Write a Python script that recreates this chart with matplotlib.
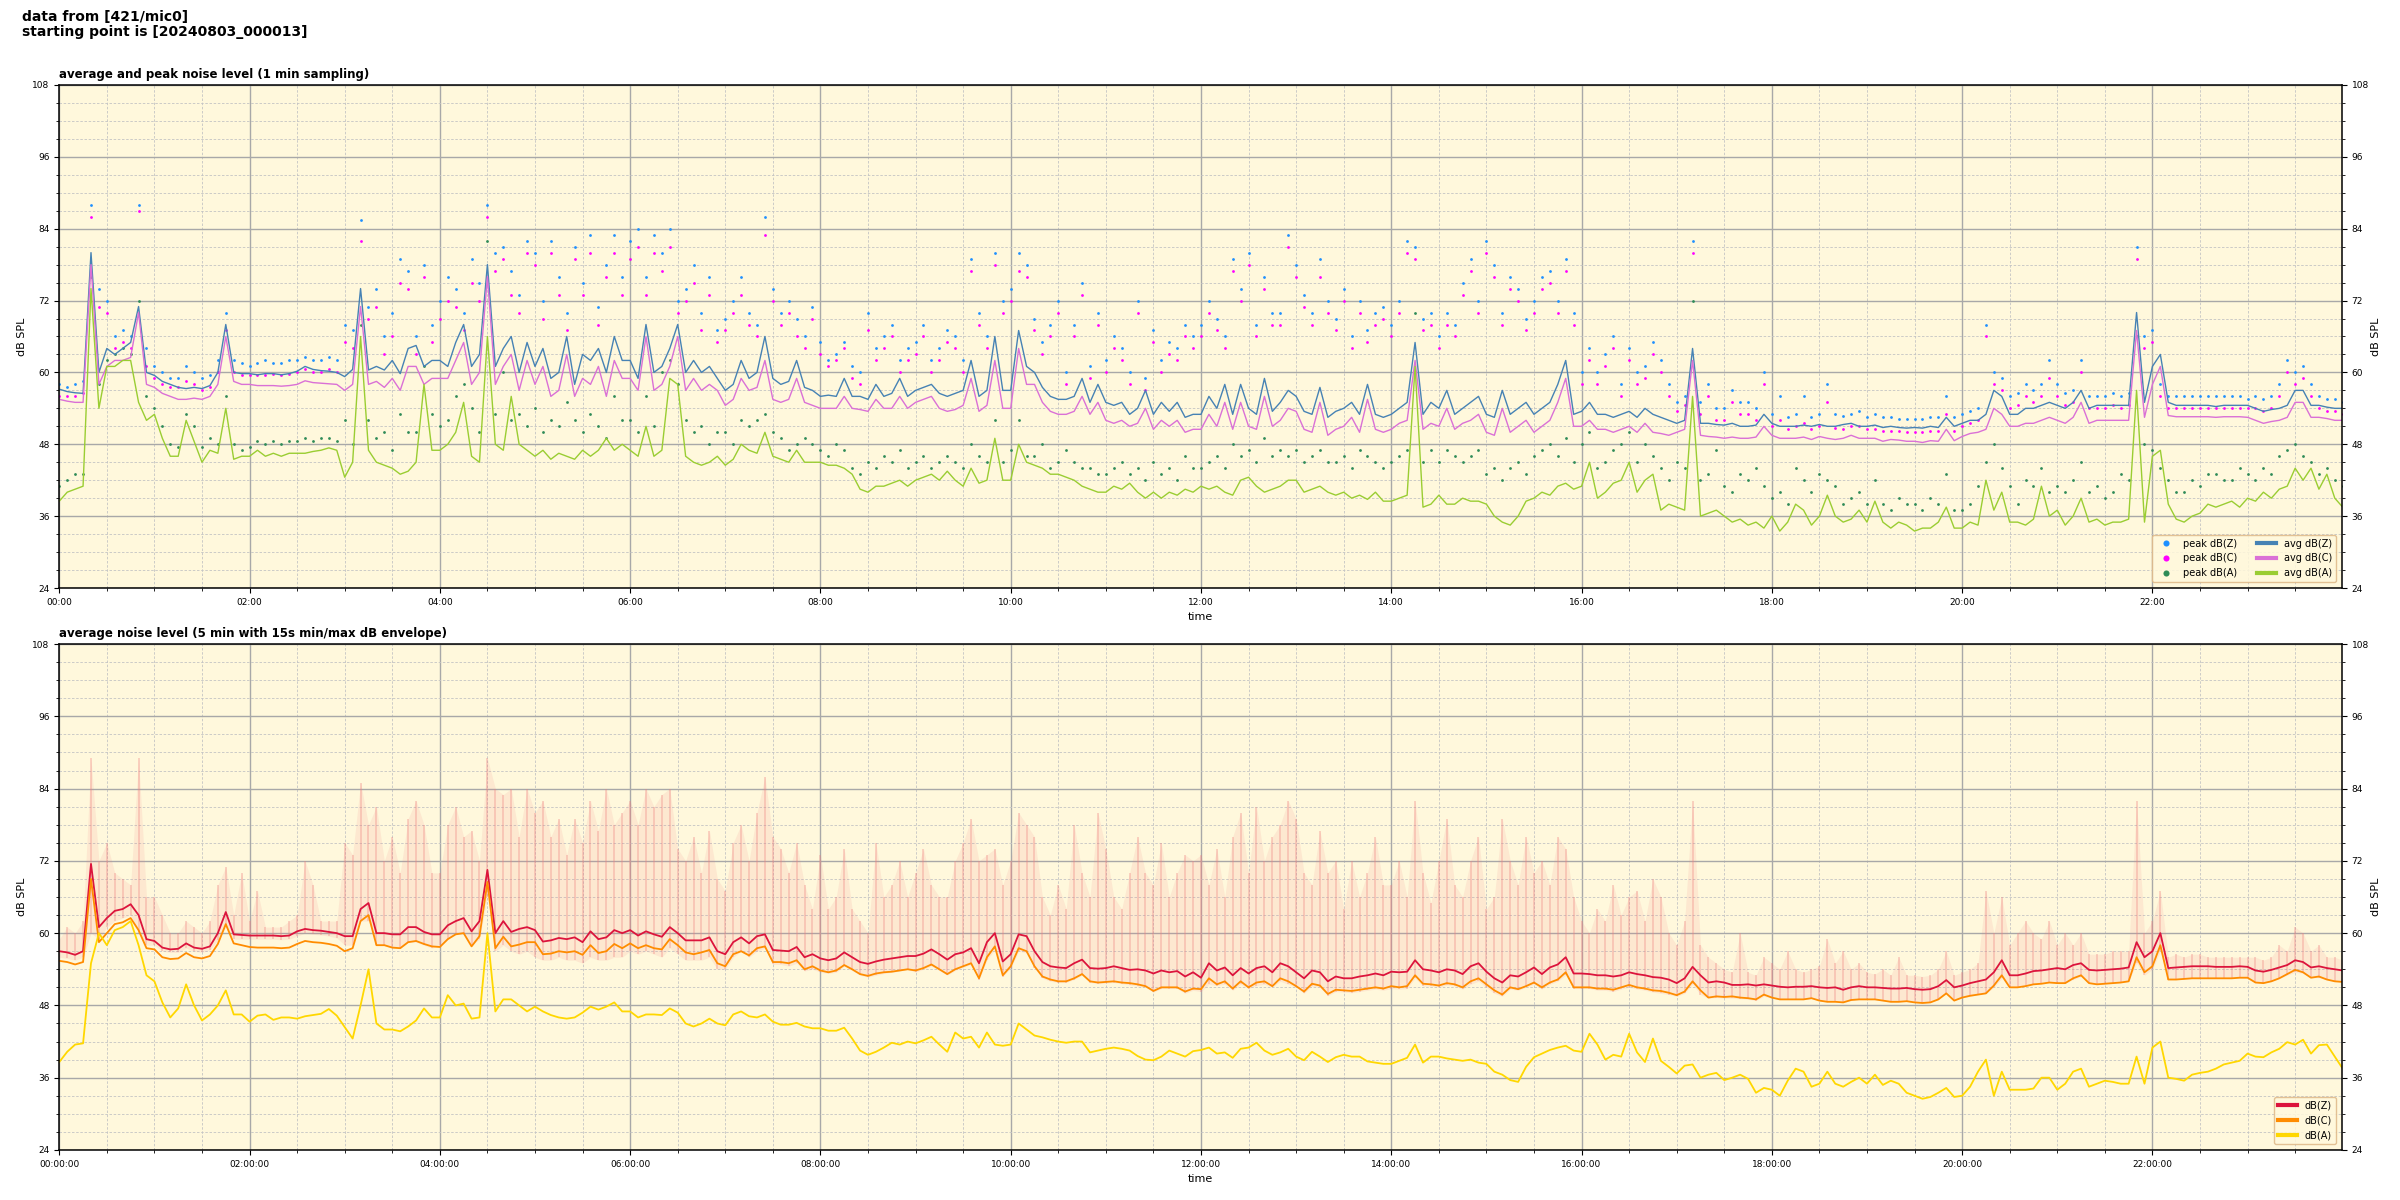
import numpy as np
import pandas as pd
import matplotlib
matplotlib.use("Agg")
import matplotlib.pyplot as plt
import matplotlib.dates as mdates
from matplotlib.ticker import MultipleLocator

# ---------------- data (5-minute samples, 00:00 .. 24:00) ----------------
start = "2024-08-03 00:00:00"

# top panel: 1 min average levels
avg_z = [57.2, 56.8, 56.6, 56.5, 80, 60, 64, 63, 64, 65, 71, 60,
         59.5, 58.5, 58, 57.5, 57.3, 57.5, 57.3, 57.8, 60, 68, 60, 59.8,
         59.8, 59.6, 59.8, 59.8, 59.6, 59.8, 60.2, 61, 60.5, 60.3, 60.2, 60,
         59.3, 60.5, 74, 60.4, 61, 60.4, 62, 59.8, 64, 64.5, 61, 62,
         62, 61, 65, 68, 61, 63, 78, 61, 64, 66, 60, 65,
         61, 64, 59, 60, 66, 58, 63, 62, 64, 60, 66, 62,
         62, 59, 68, 60, 61, 64, 68, 60, 62, 60, 61, 59,
         57, 58, 62, 59, 60, 66, 59, 58, 58.5, 62, 57.5, 57,
         56, 56.2, 56, 59, 56, 56, 55.5, 58, 56, 56.5, 59, 56,
         57, 57.5, 58, 56.5, 56, 56.5, 57, 62, 56, 57, 66, 57,
         57, 67, 61, 60, 57.5, 56, 55.5, 55.5, 56, 59, 55, 58,
         55, 54.5, 55, 53, 54, 57, 53, 55, 53.5, 55, 52.5, 53,
         53, 56, 54, 58, 53, 58, 54, 53, 59, 53.5, 55, 57,
         56, 53.5, 53, 57.5, 52.5, 53.5, 54, 55, 53, 58, 53, 52.5,
         53, 54, 55, 65, 53, 55, 54, 57, 53, 54, 55, 56,
         53, 52.5, 57, 53, 54, 55, 53, 54, 55, 58, 62, 53,
         53.5, 55, 53, 53, 52.5, 53, 53.5, 52.5, 54, 53, 52.5, 52,
         51.5, 52, 64, 51.5, 51.5, 51.3, 51.2, 51.5, 51, 51, 51.2, 53,
         51.5, 51, 51, 51, 51.2, 51, 51.3, 51, 51, 51.3, 51.5, 51,
         51, 51.2, 50.8, 51, 50.8, 50.7, 50.8, 50.7, 51, 50.8, 52.5, 51,
         51.5, 52, 52, 53, 57, 56, 53, 53, 54, 54, 54.5, 55,
         54.5, 54, 55, 57, 54, 54.5, 54.5, 54.5, 54.5, 54.5, 70, 55,
         61, 63, 55, 54.5, 54.5, 54.5, 54.5, 54.5, 54.3, 54.5, 54.5, 54.5,
         54.5, 54, 53.5, 53.8, 54, 54.5, 57, 57, 54.5, 54.5, 54.2, 54,
         54]
avg_c = [55.5, 55.2, 55, 55, 78, 58, 61, 62, 62, 62.5, 70, 58,
         57.5, 56.5, 56, 55.5, 55.5, 55.7, 55.5, 56, 58, 66, 58.5, 58,
         58, 57.8, 57.8, 57.8, 57.7, 57.8, 58, 58.6, 58.3, 58.2, 58.1, 58,
         57, 58, 71, 58, 58.5, 57.5, 59, 57, 61, 61, 58, 59,
         59, 59, 62, 65, 58, 60, 76, 58, 61, 63, 57, 62,
         58, 61, 56, 57, 63, 56, 59, 58, 61, 56, 62, 59,
         59, 57, 66, 57, 58, 61, 66, 57, 59, 57, 58, 57,
         54.5, 55.5, 59, 57, 57.5, 62, 55.5, 55, 55.5, 59, 55, 54.5,
         54, 54, 54, 56, 54, 53.8, 53.5, 55.5, 54, 54, 56, 54,
         55, 55.5, 56, 54, 53.5, 53.8, 54.5, 59, 53.5, 54.5, 62, 54,
         54, 64, 58, 58, 55, 53.5, 53, 53, 53.5, 56, 53, 55,
         52, 51.5, 52, 51, 51.5, 54, 50.5, 52, 51, 52, 50, 50.5,
         50.5, 53, 51, 55, 50.5, 55, 51, 50.5, 56, 51, 52, 54,
         53.5, 50.5, 50, 55, 49.5, 50.5, 51, 52.5, 50, 55.5, 50.5, 50,
         50.5, 51.5, 52, 62, 50.5, 51.5, 51, 54, 50.5, 51.5, 52, 53,
         50, 49.5, 54, 50, 51, 52, 50, 51, 52, 55, 59, 51,
         51, 52, 50.5, 50.5, 50, 50.5, 51, 50, 51.5, 50, 49.8, 49.5,
         50, 50.5, 62, 49.5, 49.3, 49.2, 49, 49.2, 49, 49, 49.2, 51,
         49.5, 49, 49, 49, 49.2, 48.8, 49.3, 49, 48.8, 49, 49.5, 49,
         49, 49, 48.5, 48.8, 48.7, 48.5, 48.5, 48.3, 48.6, 48.5, 50.5, 48.6,
         49.3, 49.8, 50, 50.5, 54, 53, 51, 51, 51.5, 51.5, 52, 52.5,
         52, 51.5, 52.5, 55, 51.5, 52, 52, 52, 52, 52, 67, 52.5,
         58, 61, 52.8, 52.6, 52.6, 52.6, 52.6, 52.6, 52.5, 52.6, 52.6, 52.6,
         52.5, 52, 51.5, 51.8, 52, 52.5, 55, 55, 52.5, 52.5, 52.3, 52,
         52]
avg_a = [38.5, 40, 40.5, 41, 74, 54, 61, 61, 62, 62, 55, 52,
         53, 49, 46, 46, 52, 48.5, 45, 47, 46.5, 54, 45.5, 46,
         46, 47, 46, 46.5, 46, 46.5, 46.5, 46.5, 46.8, 47, 47.4, 47,
         42.5, 45, 66, 47, 45, 44.5, 44, 43, 43.5, 45, 58, 47,
         47, 48, 50, 55, 46, 45, 66, 48, 47, 56, 48, 47,
         46, 47, 45.5, 46.5, 46, 45.5, 47, 46, 47, 49, 47, 48,
         47, 46, 51, 46, 47, 59, 58, 46, 45, 44.5, 45, 46,
         44.5, 45.5, 48, 47, 46.5, 50, 46, 45.5, 45, 47, 45, 45,
         45, 44.5, 44.5, 44, 43, 40.5, 40, 41, 41, 41.5, 42, 41,
         42, 42.5, 43, 42, 43.5, 42, 41, 44, 41.5, 42, 49, 42,
         42, 48, 45, 44.5, 44, 43, 43, 42.5, 42, 41, 40.5, 40,
         40, 41, 40.5, 41.5, 40, 39, 40, 39, 40, 39.5, 40.5, 40,
         41, 40.5, 41, 40, 39.5, 42, 42.5, 41, 40, 40.5, 41, 42,
         42, 40, 40.5, 41, 40, 39.5, 40, 39, 39.5, 38.8, 40, 38.5,
         38.5, 39, 39.5, 61, 37.5, 38, 39.5, 38, 38, 39, 38.5, 38.5,
         38, 36, 35, 34.5, 36, 38.5, 39, 40, 39.5, 41, 41.5, 40.5,
         41, 45, 39, 40, 41.5, 42, 45, 40, 42, 43, 37, 38,
         37.5, 37, 56, 36, 36.5, 37, 36, 35, 35.5, 34.5, 35, 34,
         36, 33.5, 35, 38, 37, 34.5, 36, 39.5, 36, 35, 35.5, 37,
         35, 38.5, 35, 34, 35, 34.5, 33.5, 34, 34, 35, 37.5, 34,
         34, 35, 34.5, 42, 37, 40, 35, 35, 34.5, 35.5, 41, 36,
         37, 34.5, 36, 39, 35, 35.5, 34.5, 35, 35, 35.5, 57, 35,
         46, 47, 38, 35.5, 35, 36, 36.5, 38, 37.5, 38, 38.5, 37.5,
         39, 38.5, 40, 39, 40.5, 41, 44, 42, 44, 40.5, 43, 39,
         37.5]

# top panel: peak levels
peak_z = [58, 57.5, 58, 58.5, 88, 74, 72, 66, 67, 66, 88, 64,
          61, 60, 59, 59, 61, 60, 59, 59.5, 62, 70, 62, 61.5,
          61, 61.5, 62, 61.5, 61.5, 62, 62, 62.5, 62, 62, 62.5, 62,
          68, 67, 85.5, 71, 74, 66, 70, 79, 77, 66, 78, 68,
          72, 76, 74, 70, 79, 75, 88, 80, 81, 77, 73, 82,
          80, 72, 82, 76, 70, 81, 75, 83, 71, 78, 83, 76,
          82, 84, 76, 83, 80, 84, 72, 74, 78, 70, 76, 67,
          69, 72, 76, 70, 68, 86, 74, 70, 72, 69, 66, 71,
          65, 62, 63, 65, 61, 60, 70, 64, 66, 68, 62, 64,
          65, 68, 62, 64, 67, 66, 62, 79, 70, 66, 80, 72,
          74, 80, 78, 69, 65, 68, 72, 60, 68, 75, 61, 70,
          62, 66, 64, 60, 72, 59, 67, 62, 65, 64, 68, 66,
          68, 72, 69, 66, 79, 74, 80, 68, 76, 70, 70, 83,
          78, 73, 70, 79, 72, 69, 74, 66, 72, 67, 70, 71,
          68, 72, 82, 81, 69, 70, 66, 70, 68, 75, 79, 72,
          82, 78, 70, 76, 74, 69, 72, 76, 77, 72, 79, 70,
          60, 64, 60, 63, 66, 58, 64, 60, 61, 65, 62, 58,
          55, 56, 82, 55, 58, 54, 54, 57, 55, 55, 54, 60,
          53, 56, 52.5, 53, 56, 52.5, 53, 58, 53, 52.8, 53, 53.5,
          52.5, 53, 52.5, 52.5, 52.3, 52.2, 52.2, 52.3, 52.5, 52.5, 56, 52.5,
          53, 53.5, 54, 68, 60, 59, 56, 56.5, 58, 57, 58, 62,
          58, 56.5, 57, 62, 56, 56, 56, 56.5, 56, 56.5, 81, 66,
          67, 58, 56, 56, 56, 56, 56, 56, 56, 56, 56, 56,
          55.5, 56, 55.5, 56, 58, 62, 60, 61, 58, 56, 55.5, 55.5,
          55]
peak_c = [56, 56, 56, 56.5, 86, 71, 70, 64, 65, 64, 87, 61,
          59, 58, 57.5, 57.5, 58.5, 58, 57, 57.5, 60, 67, 60, 59.5,
          59.5, 59.5, 59.5, 59.8, 59.5, 59.8, 60, 60.5, 60, 60, 60.5, 60,
          65, 64, 82, 69, 71, 63, 66, 75, 74, 63, 76, 65,
          69, 72, 71, 67, 75, 72, 86, 77, 79, 73, 70, 80,
          78, 69, 80, 73, 67, 79, 73, 80, 68, 76, 80, 73,
          79, 81, 73, 80, 77, 81, 70, 72, 75, 67, 73, 65,
          67, 70, 73, 68, 66, 83, 72, 68, 70, 66, 64, 69,
          63, 61, 62, 64, 59, 58, 67, 62, 64, 66, 60, 62,
          63, 66, 60, 62, 65, 64, 60, 77, 68, 64, 78, 70,
          72, 77, 76, 67, 63, 66, 70, 58, 66, 73, 59, 68,
          60, 64, 62, 58, 70, 57, 65, 60, 63, 62, 66, 64,
          66, 70, 67, 64, 77, 72, 78, 66, 74, 68, 68, 81,
          76, 71, 68, 76, 70, 67, 72, 64, 70, 65, 68, 69,
          66, 70, 80, 79, 67, 68, 64, 68, 66, 73, 77, 70,
          80, 76, 68, 74, 72, 67, 70, 74, 75, 70, 77, 68,
          58, 62, 58, 61, 64, 56, 62, 58, 59, 63, 60, 56,
          53.5, 54.5, 80, 53, 56, 52, 52, 55, 53, 53, 52, 58,
          51, 52, 50.5, 51, 51.5, 50.5, 51, 55, 50.8, 50.5, 51, 51,
          50.5, 50.6, 50.2, 50.3, 50.2, 50, 50, 50.1, 50.3, 50.2, 53, 50.3,
          51, 51.5, 52, 66, 58, 57, 54, 54.5, 56, 55, 56, 59,
          56, 54.5, 55, 60, 54, 54, 54, 54.5, 54, 54.5, 79, 64,
          65, 56, 54, 54, 54, 54, 54, 54, 54, 54, 54, 54,
          54, 54, 53.5, 54, 56, 60, 58, 59, 56, 54, 53.5, 53.5,
          53]
peak_a = [41, 42, 43, 43, 76, 58, 62, 63, 64, 63, 72, 56,
          54, 51, 48, 47.5, 53, 51, 47.5, 49, 48, 56, 48, 47,
          47.5, 48.5, 48, 48.5, 48, 48.5, 48.5, 49, 48.5, 49, 49, 48.5,
          52, 48, 68, 52, 49, 50, 47, 53, 50, 50, 61, 53,
          51, 52, 56, 58, 54, 50, 82, 53, 60, 52, 53, 51,
          54, 50, 52, 51, 55, 52, 50, 53, 51, 49, 56, 52,
          52, 50, 56, 51, 60, 62, 58, 52, 50, 51, 48, 50,
          50, 48, 52, 51, 52, 53, 50, 49, 47, 48, 49, 48,
          47, 46, 48, 47, 44, 43, 45, 44, 46, 45, 47, 44,
          45, 46, 44, 45, 46, 45, 44, 48, 46, 45, 52, 45,
          47, 52, 46, 46, 48, 44, 45, 47, 45, 44, 44, 43,
          43, 44, 45, 43, 44, 42, 45, 43, 44, 42, 46, 44,
          44, 45, 46, 44, 48, 46, 47, 45, 49, 46, 47, 46,
          47, 45, 46, 47, 45, 45, 46, 44, 47, 46, 45, 44,
          45, 46, 47, 70, 45, 47, 45, 47, 46, 45, 46, 47,
          43, 44, 42, 44, 45, 43, 46, 47, 48, 46, 49, 45,
          48, 50, 44, 45, 47, 48, 50, 45, 48, 46, 44, 42,
          45, 44, 72, 42, 43, 47, 41, 40, 43, 42, 44, 41,
          39, 40, 38, 44, 42, 40, 43, 42, 41, 38, 39, 40,
          38, 42, 38, 37, 39, 38, 38, 37, 39, 38, 43, 37,
          37, 38, 41, 45, 48, 44, 41, 38, 42, 41, 44, 40,
          41, 40, 42, 45, 40, 41, 39, 40, 43, 42, 66, 48,
          47, 44, 42, 40, 40, 42, 41, 43, 43, 42, 42, 44,
          43, 42, 44, 43, 46, 47, 48, 46, 45, 43, 44, 42,
          41]

# bottom panel: 5 min averages
lvl_z = [57, 56.8, 56.4, 57, 71.5, 61, 62.5, 63.7, 64, 64.8, 63, 59,
         58.7, 57.6, 57.3, 57.4, 58.3, 57.6, 57.4, 57.8, 60, 63.5, 59.8, 59.7,
         59.6, 59.6, 59.6, 59.6, 59.5, 59.6, 60.3, 60.7, 60.5, 60.4, 60.2, 60,
         59.5, 59.5, 64, 65, 60, 60, 59.8, 59.8, 61, 61, 60.2, 59.8,
         59.8, 61.3, 62, 62.5, 60.3, 62, 70.5, 60, 62, 60.2, 60.7, 61,
         60.5, 58.6, 58.8, 59.2, 59, 59.3, 58.5, 60.3, 59, 59.3, 60.5, 60,
         60.5, 59.6, 60.3, 59.8, 59.4, 61, 60, 58.8, 58.8, 58.8, 59.3, 57,
         56.5, 58.5, 59.3, 58.3, 59.5, 59.8, 57.2, 57.1, 57, 57.7, 56, 56.5,
         55.8, 55.5, 55.8, 56.8, 56, 55.2, 54.9, 55.3, 55.6, 55.8, 56, 56.2,
         56.2, 56.6, 57.3, 56.5, 55.6, 56.5, 56.8, 57.5, 55, 58.5, 60, 55.3,
         56.5, 59.8, 59.5, 57, 55.2, 54.5, 54.3, 54.2, 55, 55.6, 54.2, 54.1,
         54.2, 54.5, 54.2, 53.9, 54, 53.8, 53.3, 53.8, 53.5, 53.7, 52.8, 53.5,
         52.6, 55, 53.8, 54.3, 53, 54.2, 53.3, 54.2, 54.5, 53.5, 55, 54.5,
         53.5, 52.5, 53.8, 53.5, 52, 52.8, 52.5, 52.5, 52.8, 53, 53.3, 53,
         53.6, 53.5, 53.6, 55.5, 54, 53.8, 53.5, 54, 53.8, 53.2, 54.5, 55,
         53.6, 52.5, 51.8, 53, 52.8, 53.5, 54.3, 53.2, 54.3, 54.8, 56, 53.3,
         53.3, 53.2, 53, 53, 52.8, 53, 53.5, 53.2, 53, 52.7, 52.6, 52.3,
         51.7, 52.5, 54.4, 53, 51.8, 52, 51.8, 51.4, 51.4, 51.5, 51.3, 51.5,
         51.3, 51.1, 51, 51.1, 51.1, 51.2, 51, 50.9, 51, 50.6, 51, 51.2,
         51, 51, 50.9, 50.8, 50.8, 50.9, 50.7, 50.6, 50.7, 51.2, 52.2, 51,
         51.3, 51.7, 52, 52.3, 53.5, 55.5, 53, 53, 53.3, 53.7, 53.8, 54,
         54.2, 54, 54.7, 55, 53.9, 53.8, 53.9, 54, 54.1, 54.3, 58.5, 56,
         57, 60, 54.2, 54.3, 54.4, 54.5, 54.5, 54.5, 54.4, 54.4, 54.4, 54.5,
         54.4, 53.8, 53.6, 53.9, 54.3, 54.7, 55.5, 55.2, 54.3, 54.5, 54.2, 54,
         53.8]
lvl_c = [55.4, 55.2, 54.8, 55.2, 69, 58.5, 60, 61.5, 61.8, 62.5, 60.5, 57.5,
         57.3, 56, 55.7, 55.8, 56.7, 56, 55.8, 56.2, 58.2, 61.5, 58.3, 58,
         57.7, 57.6, 57.6, 57.6, 57.5, 57.6, 58.2, 58.7, 58.5, 58.4, 58.2, 57.9,
         57, 57.5, 62, 63, 58, 58, 57.6, 57.5, 58.5, 58.7, 58.2, 57.8,
         57.7, 59, 59.8, 60, 57.8, 59.5, 68.5, 57.5, 59.4, 57.8, 58.1, 58.5,
         58.5, 56.5, 56.6, 57, 56.8, 57, 56.4, 58, 56.7, 57, 58.2, 57.5,
         58.3, 57.5, 58, 57.5, 57.3, 59, 58, 56.8, 56.5, 56.8, 57.2, 55,
         54.5, 56.5, 57, 56.3, 57.5, 57.8, 55.2, 55.2, 55, 55.5, 54, 54.5,
         53.8, 53.5, 53.8, 54.7, 54, 53.2, 52.9, 53.3, 53.5, 53.6, 53.8, 54,
         53.8, 54.2, 54.8, 54, 53.2, 54, 54.5, 55, 52.5, 56, 57.8, 53,
         54.5, 57.5, 57, 54.5, 52.8, 52.3, 52, 52, 52.5, 53.2, 52, 51.8,
         51.9, 52, 51.8, 51.7, 51.5, 51.2, 50.4, 51, 51, 51, 50.3, 50.8,
         50.7, 52.5, 51.5, 52, 50.8, 52, 51, 51.8, 52, 51.2, 52.5, 52,
         51.2, 50.3, 51.6, 51.3, 49.9, 50.6, 50.5, 50.4, 50.6, 50.8, 51, 50.8,
         51.2, 51, 51.2, 53, 51.6, 51.5, 51.3, 51.7, 51.5, 51, 52, 52.5,
         51.5, 50.5, 49.8, 51, 50.7, 51.2, 51.8, 51, 51.8, 52.3, 53.5, 51,
         51, 51, 50.8, 50.8, 50.6, 51, 51.4, 51, 50.8, 50.5, 50.4, 50.1,
         49.7, 50.3, 52, 50.5, 49.3, 49.5, 49.4, 49.5, 49.3, 49.2, 49, 49.8,
         49.3, 49, 49, 49, 49, 49.2, 48.8, 48.6, 48.6, 48.5, 48.9, 49,
         49, 49, 48.8, 48.6, 48.6, 48.7, 48.5, 48.4, 48.5, 49, 50, 48.8,
         49.3, 49.6, 49.8, 50, 51.3, 53, 51, 51, 51.2, 51.5, 51.6, 51.8,
         51.7, 51.7, 52.5, 53, 51.7, 51.5, 51.6, 51.7, 51.8, 52, 56, 53.5,
         54.5, 58, 52.3, 52.3, 52.4, 52.5, 52.5, 52.5, 52.5, 52.5, 52.5, 52.6,
         52.6, 51.8, 51.7, 52, 52.5, 53.2, 53.9, 53.5, 52.6, 52.8, 52.3, 52,
         51.9]
lvl_a = [38.6, 40.3, 41.5, 41.7, 55, 60, 58, 60.5, 61, 62, 58, 53,
         52, 48.5, 46, 47.5, 51.5, 48, 45.5, 46.5, 48, 50.5, 46.5, 46.5,
         45.3, 46.3, 46.5, 45.6, 46, 46, 45.8, 46.2, 46.4, 46.6, 47.4, 46.3,
         44.4, 42.5, 48, 54, 45, 44, 44, 43.7, 44.5, 45.5, 47.5, 46,
         46, 49.7, 48, 48.3, 45.8, 46, 60, 47, 49, 49, 48, 47,
         47.8, 47, 46.4, 46, 45.8, 46, 46.8, 47.8, 47.3, 47.8, 48.5, 47,
         47, 46, 46.5, 46.5, 46.4, 47.5, 46.8, 45, 44.5, 45, 45.8, 45,
         44.7, 46.5, 47, 46.2, 46, 46.5, 45.3, 44.8, 44.8, 45.1, 44.5, 44.2,
         44.2, 43.8, 43.8, 44.3, 42.5, 40.5, 39.8, 40.3, 41, 41.8, 41.5, 42,
         41.7, 42.2, 42.8, 41.5, 40.3, 43.5, 42.5, 42.8, 41, 43.5, 41.5, 41.3,
         41.5, 45, 44, 43, 42.7, 42.3, 42, 41.8, 42, 42, 40.2, 40.5,
         40.8, 41, 40.8, 40.5, 39.6, 39, 38.9, 39.5, 40.5, 40, 39.5, 40.4,
         40.6, 41, 40, 40.2, 39.3, 40.8, 41, 41.8, 40.5, 39.8, 40.2, 40.8,
         39.5, 38.9, 40.3, 39.5, 38.6, 39.4, 39.8, 39.5, 39.5, 38.7, 38.5, 38.3,
         38.3, 38.8, 39.3, 41.5, 38.5, 39.5, 39.5, 39.2, 39, 38.8, 39, 38.5,
         38.3, 37, 36.5, 35.6, 35.3, 37.8, 39.4, 40, 40.6, 41, 41.3, 40.5,
         40.3, 43.3, 41.5, 39, 39.8, 39.5, 43.3, 40.2, 38.6, 42.5, 38.8, 37.8,
         36.7, 38, 38.2, 36, 36.5, 36.8, 35.6, 36, 36.5, 35.8, 33.5, 34.3,
         34, 33, 35.5, 37.5, 37, 34.5, 35, 37, 35, 34.5, 35.3, 36,
         35, 36.5, 34.8, 35.5, 35, 33.5, 33, 32.5, 32.8, 33.5, 34.3, 32.8,
         33, 34.5, 37, 39, 33, 37, 34, 34, 34, 34.2, 36, 36,
         34, 35, 37, 37.5, 34.5, 35, 35.5, 35.3, 35, 35, 39.5, 35,
         41, 42, 36, 35.8, 35.5, 36.5, 36.8, 37, 37.5, 38.2, 38.5, 38.8,
         40, 39.5, 39.4, 40.2, 40.8, 41.9, 41.5, 42.3, 40, 41.4, 41.5, 39.5,
         37.5]

# bottom panel: 15 s min/max envelope
env_hi = [59, 61, 60, 62, 89, 72, 75, 70, 69, 68, 89, 66,
          66, 63, 60, 60, 62, 61, 60, 62, 68, 71, 63, 70,
          62, 67, 61, 61, 61, 62, 63, 72, 68, 62, 62, 62,
          75, 73, 85, 78, 81, 72, 76, 70, 79, 82, 78, 70,
          70, 78, 81, 76, 77, 72, 89, 84, 83, 84, 76, 84,
          80, 82, 76, 79, 73, 79, 75, 82, 77, 84, 78, 80,
          82, 78, 84, 81, 83, 84, 74, 72, 76, 70, 77, 69,
          67, 75, 78, 72, 80, 86, 76, 74, 70, 75, 68, 64,
          73, 64, 66, 74, 64, 62, 60, 75, 66, 68, 72, 66,
          70, 74, 68, 66, 66, 72, 75, 79, 72, 73, 74, 68,
          72, 80, 78, 76, 66, 63, 68, 64, 78, 70, 66, 80,
          74, 66, 64, 70, 76, 70, 68, 75, 66, 70, 73, 72,
          73, 68, 74, 66, 76, 80, 70, 81, 72, 76, 78, 82,
          79, 70, 68, 77, 70, 72, 64, 72, 66, 70, 76, 68,
          68, 72, 66, 82, 70, 65, 72, 79, 68, 66, 72, 76,
          64, 66, 79, 72, 68, 76, 70, 72, 68, 76, 74, 66,
          62, 60, 64, 62, 68, 63, 66, 67, 62, 69, 66, 60,
          58, 62, 82, 58, 56, 55, 54, 53.5, 60, 53.5, 53, 56,
          55, 54, 57, 54, 53.5, 54, 54.5, 59, 55, 57, 54, 55,
          53.5, 53.2, 54, 53, 56, 53, 53, 52.8, 53, 54, 57, 53,
          53.5, 54, 55, 67, 60, 66, 58, 60, 62, 60, 59, 62,
          58, 60, 58, 60, 56.5, 56.5, 56.5, 57, 57, 57, 82, 60,
          62, 67, 56, 56.5, 56, 56.5, 56.5, 56, 56, 56, 56, 56,
          56, 56, 55.5, 56, 58, 57, 61, 60, 57, 58, 56, 56,
          55.5]
env_lo = [56, 55.8, 55.5, 56, 60, 59, 61, 62, 62.5, 63, 60, 58,
          58, 57, 56.8, 56.8, 57.5, 57, 56.8, 57.2, 58.8, 61, 59, 59,
          59, 59, 59, 59, 58.9, 59, 59.5, 60, 59.8, 59.7, 59.5, 59.2,
          58, 58, 62, 62, 58, 58, 57.5, 57.5, 58.5, 58.5, 58, 57.5,
          58, 59, 60, 60, 58, 59, 66, 57, 58, 57, 56.5, 57,
          56, 55.5, 55.5, 56, 55.5, 55.5, 55, 56, 55.5, 55.5, 56, 56,
          57, 56.5, 57, 56.5, 56, 57.5, 56.5, 55.5, 55.5, 55.5, 56, 54,
          54, 56, 57, 56, 57, 57.5, 54.8, 54.8, 54.5, 55, 53.7, 54,
          53.5, 53.3, 53.5, 54.5, 53.8, 53, 52.7, 53, 53.3, 53.5, 53.7, 54,
          53.5, 54, 54.5, 53.8, 53, 53.8, 54.3, 54.8, 52.3, 55.5, 57.3, 52.8,
          54.2, 57, 56.7, 54.2, 52.5, 52, 51.8, 51.8, 52.3, 53, 51.8, 51.6,
          51.7, 51.8, 51.6, 51.4, 51.2, 51, 50.2, 50.8, 50.8, 50.8, 50, 50.5,
          50.3, 51.5, 51.3, 51.5, 50.5, 51.5, 50.8, 51.3, 51.5, 51, 52, 51.5,
          51, 50, 51.2, 51, 49.6, 50.3, 50.2, 50.1, 50.3, 50.5, 50.7, 50.5,
          50.8, 50.7, 50.8, 52.5, 51.2, 51.2, 51, 51.4, 51.2, 50.7, 51.5, 52,
          51, 50, 49.5, 50.7, 50.5, 51, 51.5, 50.7, 51.5, 52, 53, 50.8,
          50.8, 50.8, 50.5, 50.5, 50.3, 50.7, 51, 50.7, 50.5, 50.2, 50, 49.8,
          49.5, 50, 51.5, 49.8, 49.2, 49.3, 49.2, 49.2, 49.1, 49, 48.8, 49.5,
          49.2, 49, 49, 49, 49, 49.2, 48.8, 48.6, 48.7, 48.5, 48.8, 49,
          49, 49, 48.8, 48.6, 48.6, 48.7, 48.5, 48.4, 48.5, 49, 50, 48.8,
          49.3, 49.5, 49.8, 50, 51, 52.5, 51, 51, 51.3, 51.5, 51.7, 51.8,
          51.8, 51.7, 52.3, 52.8, 51.7, 51.5, 51.6, 51.7, 51.8, 52, 55, 53,
          54, 57, 52.3, 52.3, 52.4, 52.5, 52.5, 52.5, 52.5, 52.5, 52.5, 52.6,
          52.5, 51.8, 51.7, 52, 52.5, 53, 53.5, 53.3, 52.6, 52.6, 52.3, 52,
          51.9]

suptitle_text = "data from [421/mic0]\nstarting point is [20240803_000013]"
title_top = "average and peak noise level (1 min sampling)"
title_bottom = "average noise level (5 min with 15s min/max dB envelope)"

# ---------------- figure ----------------
times = pd.date_range(start, periods=len(avg_z), freq="5min")
x0 = pd.Timestamp("2024-08-03 00:00:00")
x1 = pd.Timestamp("2024-08-03 23:59:30")

BG = "cornsilk"
TICK_FS = 6.5

fig = plt.figure(figsize=(24, 12), dpi=100)
fig.text(0.009, 0.992, suptitle_text, fontsize=10, fontweight="bold",
         ha="left", va="top", linespacing=1.1)


def style_axes(ax, fmt):
    ax.set_facecolor(BG)
    ax.set_xlim(x0, x1)
    ax.set_ylim(24, 108)
    ax.yaxis.set_major_locator(MultipleLocator(12))
    ax.yaxis.set_minor_locator(MultipleLocator(3))
    ax.xaxis.set_major_locator(mdates.HourLocator(byhour=range(0, 24, 2)))
    ax.xaxis.set_minor_locator(mdates.MinuteLocator(byminute=[0, 30]))
    ax.xaxis.set_major_formatter(mdates.DateFormatter(fmt))
    ax.grid(which="major", color="#a8a8a8", lw=1.0, ls="-")
    ax.grid(which="minor", color="#c4c4c4", lw=0.6, ls=(0, (3, 2)))
    ax.set_axisbelow(True)
    ax.tick_params(which="both", labelsize=TICK_FS, direction="out")
    ax.tick_params(axis="y", which="both", left=True, right=True,
                   labelleft=True, labelright=True)
    for s in ax.spines.values():
        s.set_linewidth(1.1)
        s.set_color("black")
    ax.set_xlabel("time", fontsize=8)
    ax.set_ylabel("dB SPL", fontsize=8)
    ax.text(1.0148, 0.5, "dB SPL", transform=ax.transAxes, rotation=90,
            fontsize=8, ha="center", va="center")


# ---- top panel
ax1 = fig.add_axes([0.0247, 0.51, 0.9511, 0.4192])
style_axes(ax1, "%H:%M")
ax1.set_title(title_top, loc="left", fontsize=8.5, fontweight="bold", pad=5)
mk = dict(ls="none", marker="o", ms=2.0, mew=0)
ax1.plot(times, peak_z, color="dodgerblue", label="peak dB(Z)", **mk)
ax1.plot(times, peak_c, color="magenta", label="peak dB(C)", **mk)
ax1.plot(times, peak_a, color="seagreen", label="peak dB(A)", **mk)
ax1.plot(times, avg_z, color="steelblue", lw=1.0, label="avg dB(Z)")
ax1.plot(times, avg_c, color="orchid", lw=1.0, label="avg dB(C)")
ax1.plot(times, avg_a, color="yellowgreen", lw=1.0, label="avg dB(A)")
leg1 = ax1.legend(loc="lower right", ncol=2, fontsize=7, markerscale=2.2,
                  facecolor=BG, edgecolor="burlywood", framealpha=0.85,
                  borderaxespad=0.6, columnspacing=2.0)
for ln in leg1.get_lines():
    if ln.get_linestyle() != "None":
        ln.set_linewidth(3)

# ---- bottom panel
ax2 = fig.add_axes([0.0247, 0.0417, 0.9511, 0.4216])
style_axes(ax2, "%H:%M:%S")
ax2.set_title(title_bottom, loc="left", fontsize=8.5, fontweight="bold", pad=5)
ax2.fill_between(times, env_lo, env_hi, color="lightcoral", alpha=0.13, lw=0)
ax2.vlines(times, env_lo, env_hi, color="lightcoral", alpha=0.35, lw=1.3)
ax2.plot(times, lvl_z, color="crimson", lw=1.3, label="dB(Z)")
ax2.plot(times, lvl_c, color="darkorange", lw=1.3, label="dB(C)")
ax2.plot(times, lvl_a, color="gold", lw=1.3, label="dB(A)")
leg2 = ax2.legend(loc="lower right", fontsize=7, facecolor=BG,
                  edgecolor="burlywood", framealpha=0.85, borderaxespad=0.6)
for ln in leg2.get_lines():
    ln.set_linewidth(3)

fig.savefig("out.png", dpi=100, facecolor="white")
